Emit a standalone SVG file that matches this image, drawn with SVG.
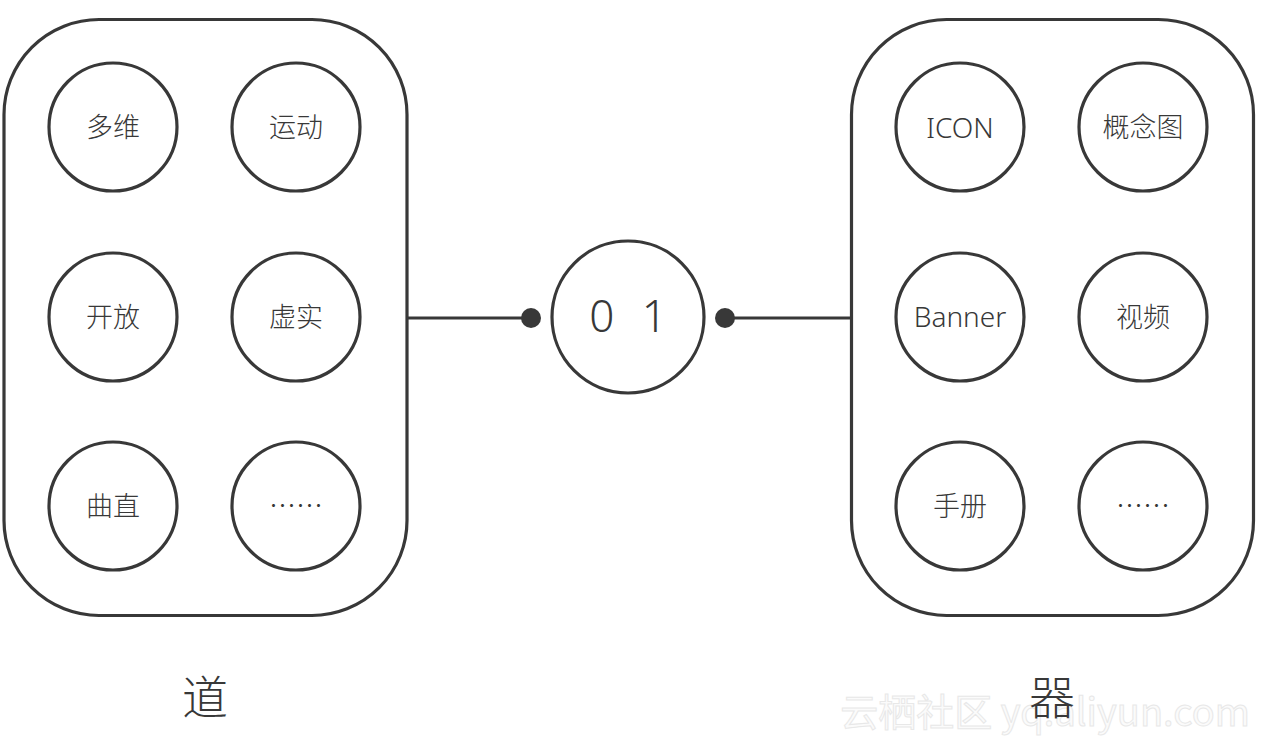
<svg xmlns="http://www.w3.org/2000/svg" width="1265" height="744" viewBox="0 0 1265 744">
<style>
.box{fill:none;stroke:#383838;stroke-width:3.2}
.c{fill:#fff;stroke:#383838;stroke-width:3.2}
.t{font-family:"Noto Sans CJK SC","Noto Sans",sans-serif;font-size:27px;fill:#383838;text-anchor:middle;font-weight:300}
.l{font-family:"Noto Sans","Open Sans","Noto Sans CJK SC",sans-serif;font-size:28px;fill:#383838;text-anchor:middle;font-weight:300}
.big{font-family:"Noto Sans CJK SC",sans-serif;font-size:46px;fill:#383838;text-anchor:middle;font-weight:300}
.conn{stroke:#383838;stroke-width:3.2;fill:none}
.dot{fill:#383838}
</style>
<rect width="1265" height="744" fill="#fff"/>
<text x="1045" y="726" style="font-family:'Noto Sans CJK SC','Noto Sans',sans-serif;font-size:38px;fill:#fbfbfb;stroke:#e8e8e8;stroke-width:1;text-anchor:middle">云栖社区 yq.aliyun.com</text>
<g id="dao">
<rect class="box" x="4" y="19.5" width="403" height="596" rx="95" ry="95"/>
<text class="big" x="205" y="714">道</text>
</g>
<g id="qi">
<rect class="box" x="851.5" y="19.5" width="402" height="596" rx="95" ry="95"/>
<text class="big" x="1052" y="714">器</text>
</g>
<g id="connectors">
<line class="conn" x1="407" y1="318" x2="531" y2="318"/>
<circle class="dot" cx="531" cy="318" r="10"/>
<line class="conn" x1="725" y1="318" x2="851.5" y2="318"/>
<circle class="dot" cx="725" cy="318" r="10"/>
</g>
<g id="center">
<circle class="c" cx="628" cy="317" r="76"/>
<text x="628" y="332" style="font-family:'Noto Sans','Open Sans',sans-serif;font-size:44px;fill:#383838;text-anchor:middle;font-weight:300;word-spacing:16px">0 1</text>
</g>
<g id="n-duowei"><circle class="c" cx="113" cy="127" r="64"/><text class="t" x="113" y="137">多维</text></g>
<g id="n-yundong"><circle class="c" cx="296" cy="127" r="64"/><text class="t" x="296" y="137">运动</text></g>
<g id="n-kaifang"><circle class="c" cx="113" cy="317" r="64"/><text class="t" x="113" y="327">开放</text></g>
<g id="n-xushi"><circle class="c" cx="296" cy="317" r="64"/><text class="t" x="296" y="327">虚实</text></g>
<g id="n-quzhi"><circle class="c" cx="113" cy="506" r="64"/><text class="t" x="113" y="516">曲直</text></g>
<g id="n-more1"><circle class="c" cx="296" cy="506" r="64"/><text class="t" x="296" y="516">……</text></g>
<g id="n-icon"><circle class="c" cx="960" cy="127" r="64"/><text class="l" x="960" y="138">ICON</text></g>
<g id="n-gainiantu"><circle class="c" cx="1143" cy="127" r="64"/><text class="t" x="1143" y="137">概念图</text></g>
<g id="n-banner"><circle class="c" cx="960" cy="317" r="64"/><text class="l" x="960" y="327">Banner</text></g>
<g id="n-shipin"><circle class="c" cx="1143" cy="317" r="64"/><text class="t" x="1143" y="327">视频</text></g>
<g id="n-shouce"><circle class="c" cx="960" cy="506" r="64"/><text class="t" x="960" y="516">手册</text></g>
<g id="n-more2"><circle class="c" cx="1143" cy="506" r="64"/><text class="t" x="1143" y="516">……</text></g>
</svg>
